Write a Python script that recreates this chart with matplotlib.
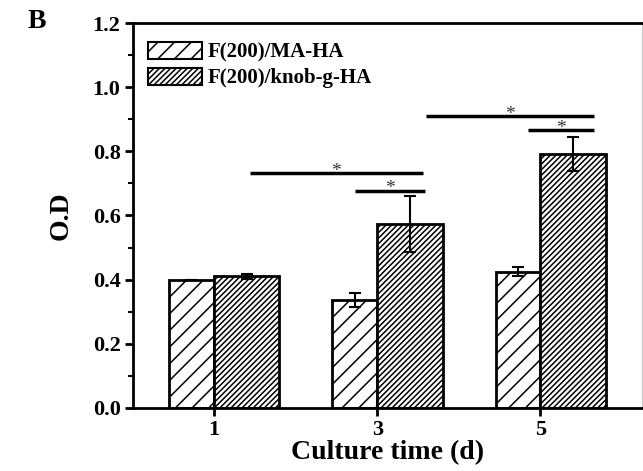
import numpy as np
import matplotlib
matplotlib.use('Agg')
import matplotlib.pyplot as plt
from matplotlib.ticker import MultipleLocator

plt.rcParams['font.family'] = 'Liberation Serif'
plt.rcParams['font.weight'] = 'bold'
plt.rcParams['hatch.linewidth'] = 1.1

dias = [1, 3, 5]
ma_ha = [0.40, 0.337, 0.425]
ma_ha_err = [0.0, 0.022, 0.015]
knob_ha = [0.41, 0.573, 0.792]
knob_ha_err = [0.008, 0.088, 0.054]
etiquetas = ['F(200)/MA-HA', 'F(200)/knob-g-HA']

# lineas de significancia: (x0, x1, y)
sig_lineas = [(1.44, 3.56, 0.731), (2.73, 3.59, 0.677),
              (3.60, 5.66, 0.910), (4.85, 5.66, 0.866)]

fig = plt.figure(figsize=(6.43, 4.71), dpi=100)
ax = fig.add_axes([0.207, 0.134, 0.791, 0.817])

x = np.array(dias)
ax.bar(x, ma_ha, width=0.55, align='edge', color='white', edgecolor='black',
       linewidth=2, hatch='//', label=etiquetas[0])
ax.bar(x, knob_ha, width=0.80, align='edge', color='white', edgecolor='black',
       linewidth=2, hatch='//////', label=etiquetas[1])
# mover las barras izquierdas a la izquierda del tick
for p in ax.patches[:3]:
    p.set_x(p.get_x() - 0.55)

ax.errorbar(x - 0.275, ma_ha, yerr=ma_ha_err, fmt='none', ecolor='black',
            elinewidth=1.5, capsize=4, capthick=1.5)
ax.errorbar(x + 0.4, knob_ha, yerr=knob_ha_err, fmt='none', ecolor='black',
            elinewidth=1.5, capsize=4, capthick=1.5)

for x0, x1, y in sig_lineas:
    ax.plot([x0, x1], [y, y], color='black', lw=2.5, solid_capstyle='butt')
    ax.text((x0 + x1) / 2, y - 0.008, '*', ha='center', va='baseline',
            fontsize=14, fontweight='normal', color='#333333')

ax.set_xlim(0.01, 6.24)
ax.set_ylim(0, 1.2)
ax.set_xticks(dias)
ax.set_xticklabels([str(d) for d in dias])
ax.yaxis.set_major_locator(MultipleLocator(0.2))
ax.yaxis.set_minor_locator(MultipleLocator(0.1))
ax.yaxis.set_major_formatter(plt.FuncFormatter(lambda v, p: f'{v:.1f}'))
ax.tick_params(axis='both', which='major', direction='out', length=6, width=2,
               labelsize=16, pad=3)
ax.tick_params(axis='y', which='minor', direction='out', length=3.5, width=1.5)
for s in ['left', 'bottom', 'top']:
    ax.spines[s].set_linewidth(2)
ax.spines['right'].set_linewidth(1)
ax.spines['right'].set_color('#cccccc')

ax.set_xlabel('Culture time (d)', fontsize=20, fontweight='bold', labelpad=0)
ax.set_ylabel('O.D', fontsize=20, fontweight='bold', labelpad=14)

leg = ax.legend(loc='upper left', frameon=False, fontsize=15,
                handlelength=2.6, handleheight=0.9, handletextpad=0.3,
                labelspacing=0.25, borderaxespad=0.3,
                bbox_to_anchor=(0.0, 0.99))
for h in leg.legend_handles:
    h.set_linewidth(1.5)

fig.text(0.043, 0.955, 'B', fontsize=20, fontweight='bold', va='center')

fig.savefig('out.png', dpi=100)
